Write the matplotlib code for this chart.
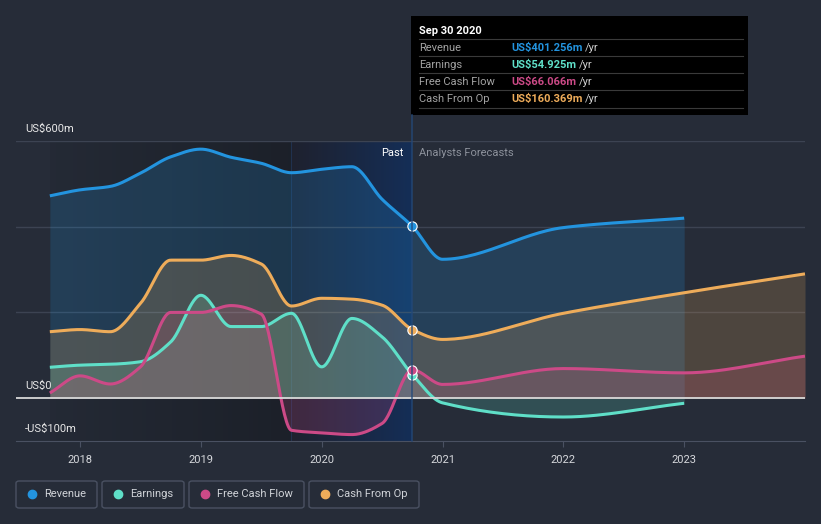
import matplotlib.pyplot as plt
import numpy as np
from matplotlib.patches import FancyBboxPatch, Rectangle
from matplotlib.lines import Line2D

plt.rcParams['font.family'] = ['Roboto', 'DejaVu Sans']

# quarterly history, values in US$m
past_t = [2017.75, 2018.0, 2018.25, 2018.5, 2018.75, 2019.0, 2019.25,
          2019.5, 2019.75, 2020.0, 2020.25, 2020.5, 2020.75]
revenue = [472, 486, 494, 525, 563, 581, 562, 548, 526, 534, 540, 464, 401]
earnings = [72, 77, 79, 85, 131, 240, 167, 167, 198, 73, 186, 143, 55]
fcf = [12, 52, 33, 73, 200, 200, 216, 196, -75, -81, -85, -59, 66]
cfo = [155, 160, 155, 221, 322, 322, 333, 313, 215, 233, 231, 217, 160]

# analyst forecasts
fc_t_short = [2021.0, 2022.0, 2023.0]
fc_t_long = [2021.0, 2022.0, 2023.0, 2024.0]
revenue_fc = [324, 398, 420]
earnings_fc = [-11, -44, -12]
fcf_fc = [32, 69, 59, 98]
cfo_fc = [137, 198, 246, 290]

series = [
    ('Revenue', '#2394df', revenue, revenue_fc, fc_t_short, 'US$401.256m'),
    ('Earnings', '#5fdfc8', earnings, earnings_fc, fc_t_short, 'US$54.925m'),
    ('Free Cash Flow', '#cc4a87', fcf, fcf_fc, fc_t_long, 'US$66.066m'),
    ('Cash From Op', '#eeac5a', cfo, cfo_fc, fc_t_long, 'US$160.369m'),
]

BG = '#262c38'


def monotone(x, y, n=30):
    # monotone cubic (Fritsch-Carlson), like d3 curveMonotoneX
    x = np.asarray(x, float)
    y = np.asarray(y, float)
    h = np.diff(x)
    d = np.diff(y) / h
    m = np.zeros_like(y)
    m[0], m[-1] = d[0], d[-1]
    for i in range(1, len(y) - 1):
        if d[i - 1] * d[i] <= 0:
            m[i] = 0
        else:
            w1 = 2 * h[i] + h[i - 1]
            w2 = h[i] + 2 * h[i - 1]
            m[i] = (w1 + w2) / (w1 / d[i - 1] + w2 / d[i])
    xs, ys = [], []
    for i in range(len(h)):
        t = np.linspace(0, 1, n, endpoint=(i == len(h) - 1))
        h00 = 2 * t**3 - 3 * t**2 + 1
        h10 = t**3 - 2 * t**2 + t
        h01 = -2 * t**3 + 3 * t**2
        h11 = t**3 - t**2
        xs.append(x[i] + t * h[i])
        ys.append(h00 * y[i] + h10 * h[i] * m[i] + h01 * y[i + 1] + h11 * h[i] * m[i + 1])
    return np.concatenate(xs), np.concatenate(ys)


W, H = 821, 524
fig = plt.figure(figsize=(W / 100, H / 100), dpi=100, facecolor=BG)
ax = fig.add_axes([16 / W, 1 - 441 / H, (805 - 16) / W, 300 / H])
ax.set_facecolor(BG)
ax.set_xlim(2017.47, 2024.0)
ax.set_ylim(-100, 600)

# darker past backdrop and highlighted last year
grad = np.linspace(0, 1, 256)[None, :]
dark = np.zeros((1, 256, 4))
dark[..., 3] = 0.05 + 0.22 * grad
ax.imshow(dark, extent=[2017.75, 2019.75, -100, 600], aspect='auto', zorder=0)
blue = np.zeros((1, 256, 4))
blue[..., 0] = 0.12 - 0.04 * grad
blue[..., 1] = 0.13 + 0.05 * grad
blue[..., 2] = 0.18 + 0.16 * grad
blue[..., 3] = 1.0
ax.imshow(blue, extent=[2019.75, 2020.75, -100, 600], aspect='auto', zorder=0)
ax.axvline(2019.75, color='#22385c', lw=0.8, alpha=0.7, zorder=0.5)

for v in [200, 400, 600]:
    ax.axhline(v, color='#3c4352', lw=1, zorder=0.6)
ax.axhline(0, color='#d8d8d8', lw=1.3, zorder=4)

for name, col, past, fc, fct, _ in series:
    xs, ys = monotone(past_t + fct, past + fc)
    ax.fill_between(xs, 0, ys, color=col, alpha=0.2, lw=0, zorder=1)
    ax.plot(xs, ys, color=col, lw=2.2, zorder=3, solid_capstyle='butt')
    ax.scatter([past_t[-1]], [past[-1]], s=45, color=col, edgecolor='white',
               linewidth=0.8, zorder=5)

for s in ax.spines.values():
    s.set_visible(False)
ax.spines['bottom'].set_visible(True)
ax.spines['bottom'].set_color('#4a5162')
ax.set_yticks([])
ax.set_xticks([2018, 2019, 2020, 2021, 2022, 2023])
ax.set_xticklabels(['2018', '2019', '2020', '2021', '2022', '2023'])
ax.tick_params(axis='x', colors='#4a5162', labelcolor='#d6d8dc', length=4,
               labelsize=8, pad=6)

# y labels
for y, txt in [(129, 'US$600m'), (386, 'US$0'), (429, '-US$100m')]:
    fig.text(25 / W, 1 - y / H, txt, color='#e8e8e8', fontsize=8, va='center')

fig.text(403 / W, 1 - 153 / H, 'Past', color='#ffffff', fontsize=8,
         ha='right', va='center')
fig.text(419 / W, 1 - 153 / H, 'Analysts Forecasts', color='#8d929c',
         fontsize=8, ha='left', va='center')

# vertical marker line
fig.add_artist(Line2D([411.5 / W, 411.5 / W], [1 - 115 / H, 1 - 441 / H],
                      color='#23497a', lw=1.2, alpha=0.8))

# tooltip
fig.add_artist(Rectangle((411 / W, 1 - 115 / H), 337 / W, 99 / H,
                         facecolor='#000000', edgecolor='none'))
fig.text(419 / W, 1 - 31 / H, 'Sep 30 2020', color='white', fontsize=8,
         fontweight='bold', va='center')
for i, (name, col, past, fc, fct, val) in enumerate(series):
    yy = 48 + 17 * i
    fig.add_artist(Line2D([419 / W, 743 / W], [1 - (yy - 9) / H] * 2,
                          color='#3a3a3a', lw=0.8))
    fig.text(419 / W, 1 - yy / H, name, color='#a3a3a3', fontsize=8,
             va='center')
    t = fig.text(511 / W, 1 - yy / H, val, color=col, fontsize=8,
                 fontweight='bold', va='center')
    fig.canvas.draw()
    bb = t.get_window_extent()
    fig.text(bb.x1 / W + 3 / W, 1 - yy / H, '/yr', color='#d0d0d0',
             fontsize=8, va='center')
fig.add_artist(Line2D([419 / W, 743 / W], [1 - 108 / H] * 2,
                      color='#3a3a3a', lw=0.8))

# legend boxes
boxes = [(16, 97), (102, 184), (189, 304), (309, 419)]
for (x0, x1), (name, col, *_) in zip(boxes, series):
    fig.add_artist(FancyBboxPatch((x0 / W, 1 - 508 / H), (x1 - x0) / W, 27 / H,
                                  boxstyle='round,pad=0,rounding_size=0.004',
                                  facecolor='none', edgecolor='#4a5162', lw=1))
    fig.add_artist(Line2D([(x0 + 16) / W], [1 - 494 / H], marker='o',
                          markersize=6, color=col, lw=0))
    fig.text((x0 + 28) / W, 1 - 494 / H, name, color='#d0d3d8', fontsize=8,
             va='center')

fig.savefig('out.png', dpi=100, facecolor=BG)
